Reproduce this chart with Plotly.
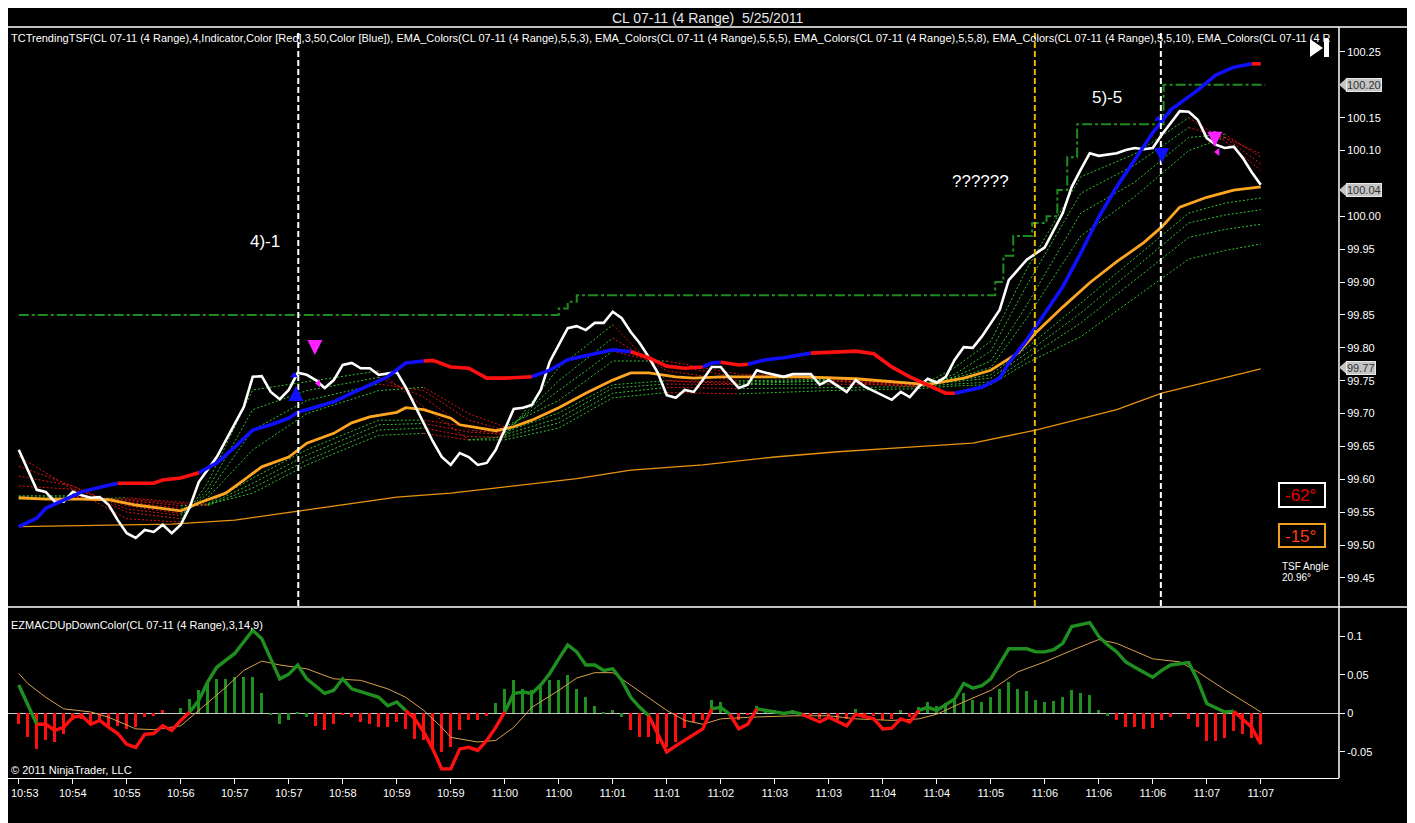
import plotly.graph_objects as go

# ---- values; x is the bar number (4-range bars, a time label every 6 bars) ----
tick_text = ["10:53", "10:54", "10:55", "10:56", "10:57", "10:57", "10:58", "10:59", "10:59",
             "11:00", "11:00", "11:01", "11:01", "11:02", "11:03", "11:03", "11:04", "11:04",
             "11:05", "11:06", "11:06", "11:06", "11:07", "11:07"]
tick_bars = list(range(0, 139, 6))

close_bar = [0, 2, 3, 4, 5, 6, 7, 8, 9, 10, 11, 12, 13, 14, 15, 16, 17, 18, 19, 20, 22, 23, 25, 26, 27,
             28, 29, 30, 31, 32, 33, 34, 35, 36, 37, 38, 39, 40, 42, 43, 44, 45, 46, 47, 48, 49, 50, 51,
             52, 53, 54, 55, 56, 57, 58, 59, 61, 62, 63, 64, 65, 66, 67, 68, 69, 70, 71, 72, 73, 74, 75,
             76, 77, 78, 79, 80, 81, 82, 83, 85, 86, 88, 89, 90, 92, 93, 94, 96, 97, 98, 99, 100, 101,
             102, 103, 104, 105, 106, 107, 109, 110, 112, 114, 116, 117, 118, 119, 120, 122, 123, 124,
             125, 126, 127, 128, 129, 130, 131, 132, 133, 134, 135, 136, 137, 138]
close_px = [99.645, 99.584, 99.581, 99.566, 99.566, 99.581, 99.576, 99.572, 99.573, 99.561, 99.538,
            99.518, 99.511, 99.523, 99.520, 99.531, 99.518, 99.531, 99.558, 99.596, 99.634, 99.660,
            99.710, 99.756, 99.757, 99.733, 99.722, 99.736, 99.762, 99.759, 99.751, 99.739, 99.751,
            99.774, 99.777, 99.769, 99.769, 99.759, 99.763, 99.740, 99.712, 99.685, 99.658, 99.634,
            99.622, 99.640, 99.634, 99.622, 99.625, 99.645, 99.675, 99.707, 99.709, 99.713, 99.736,
            99.779, 99.830, 99.833, 99.827, 99.838, 99.838, 99.855, 99.845, 99.824, 99.807, 99.786,
            99.762, 99.728, 99.724, 99.736, 99.733, 99.751, 99.771, 99.771, 99.754, 99.739, 99.744,
            99.766, 99.762, 99.756, 99.760, 99.760, 99.744, 99.751, 99.733, 99.751, 99.741, 99.728,
            99.721, 99.733, 99.725, 99.741, 99.753, 99.747, 99.756, 99.782, 99.801, 99.800, 99.817,
            99.858, 99.903, 99.934, 99.953, 100.005, 100.045, 100.071, 100.096, 100.092, 100.096,
            100.101, 100.104, 100.102, 100.104, 100.124, 100.142, 100.160, 100.159, 100.147, 100.119,
            100.109, 100.104, 100.106, 100.089, 100.067, 100.048]

tsf_bar = [0, 2, 3, 5, 7, 9, 11, 13, 15, 16, 18, 20, 22, 24, 26, 28, 30, 31, 33, 35, 37, 39, 41, 43,
           45, 46, 48, 50, 52, 54, 57, 59, 61, 64, 66, 68, 70, 72, 74, 76, 77, 78, 80, 81, 83, 85, 88,
           91, 93, 95, 97, 99, 101, 103, 104, 107, 109, 110, 112, 114, 116, 118, 120, 122, 124, 126,
           128, 131, 133, 135, 137, 138]
tsf_px = [99.528, 99.541, 99.556, 99.569, 99.581, 99.588, 99.594, 99.594, 99.594, 99.599, 99.602,
          99.610, 99.625, 99.649, 99.675, 99.683, 99.693, 99.702, 99.710, 99.718, 99.731, 99.744,
          99.756, 99.777, 99.780, 99.781, 99.771, 99.769, 99.754, 99.754, 99.756, 99.766, 99.782,
          99.791, 99.797, 99.794, 99.785, 99.772, 99.769, 99.771, 99.777, 99.778, 99.774, 99.775,
          99.782, 99.785, 99.792, 99.794, 99.795, 99.791, 99.771, 99.756, 99.744, 99.731, 99.731,
          99.740, 99.754, 99.777, 99.812, 99.853, 99.893, 99.944, 99.999, 100.045, 100.086, 100.127,
          100.162, 100.192, 100.215, 100.227, 100.232, 100.232]
tsf_blue_spans = [(0, 11), (20, 45), (57, 68), (76, 78), (81, 88), (104, 137)]

ema_bar = [0, 3, 7, 10, 13, 16, 18, 20, 23, 25, 27, 30, 32, 35, 37, 39, 42, 43, 45, 48, 49, 53, 55,
           57, 60, 63, 66, 68, 70, 73, 75, 78, 82, 87, 93, 97, 101, 105, 108, 111, 113, 116, 119,
           122, 125, 127, 129, 132, 135, 138]
ema_px = [99.572, 99.570, 99.570, 99.569, 99.561, 99.555, 99.552, 99.564, 99.579, 99.599, 99.619,
          99.634, 99.655, 99.670, 99.686, 99.695, 99.702, 99.709, 99.706, 99.693, 99.683, 99.674,
          99.680, 99.690, 99.709, 99.731, 99.751, 99.762, 99.762, 99.756, 99.754, 99.756, 99.756,
          99.756, 99.753, 99.748, 99.744, 99.754, 99.766, 99.792, 99.823, 99.862, 99.899, 99.931,
          99.960, 99.984, 100.014, 100.029, 100.040, 100.045]

slow_bar = [0, 17, 24, 31, 37, 42, 48, 62, 68, 76, 84, 91, 99, 106, 113, 122, 127, 133, 138]
slow_px = [99.528, 99.532, 99.538, 99.552, 99.563, 99.573, 99.579, 99.601, 99.614, 99.622, 99.634,
           99.642, 99.649, 99.655, 99.675, 99.706, 99.731, 99.751, 99.768]

stair_bar = [0, 60, 61, 62, 108.5, 109.4, 110.5, 112.6, 114.2, 115.4, 116.5, 117.6, 127.2, 138.5]
stair_px = [99.85, 99.86, 99.87, 99.88, 99.90, 99.94, 99.97, 99.99, 100.00, 100.04, 100.09, 100.14,
            100.20, 100.20]

# EMA ribbons (dotted), read at these bars
rib_bar = [0, 6, 12, 18, 21, 26, 32, 40, 45, 50, 54, 60, 66, 72, 80, 90, 100, 104, 108, 112, 118,
           124, 130, 134, 138]
rib_fast = [
    [99.635, 99.585, 99.540, 99.535, 99.595, 99.736, 99.748, 99.765, 99.710, 99.660, 99.665, 99.770,
     99.835, 99.750, 99.745, 99.750, 99.740, 99.770, 99.810, 99.920, 100.060, 100.095, 100.150,
     100.115, 100.070],
    [99.620, 99.590, 99.550, 99.540, 99.585, 99.706, 99.735, 99.755, 99.725, 99.675, 99.670, 99.750,
     99.815, 99.765, 99.750, 99.752, 99.742, 99.760, 99.795, 99.895, 100.035, 100.078, 100.135,
     100.120, 100.080],
    [99.605, 99.590, 99.555, 99.545, 99.578, 99.675, 99.720, 99.745, 99.735, 99.690, 99.675, 99.735,
     99.795, 99.775, 99.755, 99.754, 99.744, 99.756, 99.780, 99.865, 100.005, 100.052, 100.120,
     100.125, 100.090],
    [99.590, 99.585, 99.560, 99.548, 99.572, 99.645, 99.700, 99.735, 99.740, 99.700, 99.680, 99.720,
     99.780, 99.780, 99.760, 99.756, 99.745, 99.754, 99.770, 99.845, 99.970, 100.030, 100.100,
     100.120, 100.095],
]
rib_slow = [
    [99.575, 99.575, 99.565, 99.556, 99.563, 99.602, 99.645, 99.690, 99.690, 99.680, 99.672, 99.701,
     99.744, 99.750, 99.748, 99.750, 99.745, 99.750, 99.759, 99.800, 99.868, 99.937, 100.005,
     100.020, 100.028],
    [99.573, 99.573, 99.568, 99.560, 99.561, 99.594, 99.637, 99.683, 99.685, 99.672, 99.668, 99.693,
     99.739, 99.745, 99.744, 99.745, 99.743, 99.748, 99.754, 99.792, 99.853, 99.921, 99.990,
     100.002, 100.010],
    [99.571, 99.571, 99.570, 99.563, 99.560, 99.587, 99.629, 99.675, 99.678, 99.665, 99.664, 99.686,
     99.731, 99.740, 99.738, 99.740, 99.741, 99.745, 99.748, 99.784, 99.838, 99.903, 99.968,
     99.980, 99.988],
    [99.570, 99.570, 99.572, 99.566, 99.562, 99.579, 99.622, 99.667, 99.670, 99.660, 99.660, 99.678,
     99.724, 99.732, 99.730, 99.735, 99.738, 99.742, 99.744, 99.777, 99.817, 99.876, 99.935,
     99.948, 99.958],
]

# MACD panel
macd_bar = [0, 2, 3, 4, 5, 6, 7, 8, 9, 10, 11, 12, 13, 14, 15, 16, 17, 18, 19, 20, 21, 22, 24, 25,
            26, 27, 29, 30, 31, 32, 34, 35, 36, 37, 38, 40, 41, 42, 43, 44, 45, 46, 47, 48, 49, 50,
            51, 52, 53, 54, 55, 56, 57, 58, 59, 60, 61, 62, 63, 64, 65, 66, 67, 68, 69, 70, 71, 72,
            73, 74, 76, 77, 78, 79, 80, 81, 82, 83, 85, 86, 87, 89, 90, 91, 92, 93, 95, 96, 97, 98,
            99, 100, 101, 102, 104, 105, 106, 107, 108, 110, 111, 112, 113, 114, 115, 116, 117, 119,
            120, 121, 122, 123, 124, 126, 127, 128, 130, 131, 132, 134, 135, 136, 137, 138]
macd_val = [0.037, -0.014, -0.014, -0.022, -0.018, -0.005, -0.003, -0.014, -0.009, -0.018, -0.026,
            -0.040, -0.044, -0.027, -0.026, -0.016, -0.022, -0.009, 0.002, 0.017, 0.041, 0.060,
            0.078, 0.093, 0.108, 0.097, 0.045, 0.051, 0.063, 0.045, 0.026, 0.030, 0.045, 0.032,
            0.028, 0.021, 0.010, 0.015, 0.004, -0.007, -0.024, -0.046, -0.072, -0.072, -0.046,
            -0.044, -0.048, -0.035, -0.018, 0.002, 0.026, 0.028, 0.026, 0.037, 0.052, 0.071, 0.089,
            0.080, 0.063, 0.063, 0.056, 0.058, 0.043, 0.021, 0.008, -0.003, -0.027, -0.050, -0.042,
            -0.035, -0.020, 0.006, 0.008, -0.001, -0.020, -0.014, 0.006, 0.004, 0.000, 0.002,
            -0.001, -0.011, -0.005, -0.011, -0.016, -0.001, -0.007, -0.020, -0.019, -0.007, -0.011,
            0.004, 0.008, 0.004, 0.019, 0.039, 0.033, 0.036, 0.045, 0.084, 0.084, 0.084, 0.080,
            0.080, 0.083, 0.091, 0.113, 0.118, 0.100, 0.089, 0.080, 0.067, 0.060, 0.047, 0.056,
            0.063, 0.066, 0.043, 0.013, 0.002, 0.003, -0.007, -0.018, -0.040]

signal_bar = [0, 1, 3, 5, 8, 10, 13, 15, 18, 20, 23, 25, 27, 29, 32, 35, 38, 41, 43, 45, 47, 48, 51,
              53, 55, 57, 60, 62, 64, 66, 67, 69, 72, 74, 76, 78, 81, 86, 90, 93, 97, 100, 102, 105,
              108, 111, 114, 117, 120, 122, 126, 129, 131, 134, 138]
signal_val = [0.052, 0.039, 0.021, 0.006, 0.002, -0.005, -0.020, -0.021, -0.016, 0.004, 0.034,
              0.056, 0.068, 0.063, 0.058, 0.045, 0.043, 0.032, 0.021, 0.004, -0.018, -0.031,
              -0.037, -0.035, -0.018, 0.008, 0.030, 0.046, 0.053, 0.053, 0.045, 0.028, 0.004,
              -0.009, -0.014, -0.007, -0.005, -0.003, -0.003, -0.007, -0.009, -0.007, -0.001,
              0.015, 0.030, 0.054, 0.067, 0.082, 0.096, 0.091, 0.071, 0.067, 0.054, 0.031, 0.002]

hist_val = [-0.014, -0.031, -0.046, -0.035, -0.037, -0.027, -0.009, -0.007, -0.014, -0.009, -0.017,
            -0.016, -0.020, -0.018, -0.005, -0.003, 0.005, 0.000, 0.007, 0.019, 0.030, 0.041, 0.045,
            0.045, 0.047, 0.048, 0.048, 0.027, -0.001, -0.014, -0.009, 0.002, -0.005, -0.016,
            -0.022, -0.014, -0.001, -0.004, -0.011, -0.014, -0.017, -0.018, -0.011, -0.020, -0.033,
            -0.035, -0.046, -0.050, -0.044, -0.022, -0.009, -0.009, -0.003, 0.013, 0.032, 0.044,
            0.032, 0.030, 0.034, 0.044, 0.043, 0.050, 0.032, 0.021, 0.010, 0.002, 0.004, -0.005,
            -0.022, -0.031, -0.030, -0.040, -0.044, -0.037, -0.019, -0.011, -0.008, 0.017, 0.015,
            0.000, -0.009, -0.002, 0.010, 0.006, 0.004, -0.001, 0.004, 0.000, -0.002, -0.007,
            -0.005, -0.008, -0.007, 0.006, -0.002, -0.003, -0.008, -0.007, 0.004, -0.005, 0.008,
            0.015, 0.010, 0.013, 0.018, 0.027, 0.018, 0.015, 0.021, 0.032, 0.041, 0.032, 0.029,
            0.017, 0.015, 0.016, 0.022, 0.031, 0.027, 0.024, 0.004, -0.003, -0.009, -0.017, -0.017,
            -0.020, -0.019, -0.009, -0.005, 0.000, -0.007, -0.017, -0.036, -0.036, -0.032, -0.023,
            -0.027, -0.032, -0.040]
# g = green bar, r = red bar, as drawn
hist_col = ("r" * 18 + "g" * 15 + "r" * 20 + "g" * 15 + "r" * 9 + "g" * 3 + "r" * 2 + "g" * 6 +
            "r" * 5 + "g" + "r" * 4 + "g" + "r" + "g" * 22 + "r" * 17)

marker_lines = [(31.06, "white"), (112.9, "#e8b400"), (126.9, "white")]   # bar, colour

# ---- geometry: the page puts the figure 8px in from the window corner ----
OFF = 8
W, H = 1415 - OFF, 823 - OFF
L, R, T, B = 0, 76, 19, 45
PW, PH = W - L - R, H - T - B


def px_x(p):          # window pixel -> paper x
    return (p - OFF - L) / PW


def px_y(p):          # window pixel -> paper y
    return (H - B - (p - OFF)) / PH


def pieces(xs, ys, colour):
    """split a polyline into runs of one colour (colour(i) gives segment i)"""
    out, prev = {}, None
    for i in range(len(xs) - 1):
        c = colour(i)
        bx, by = out.setdefault(c, ([], []))
        if c != prev:
            if bx:
                bx.append(None)
                by.append(None)
            bx.append(xs[i])
            by.append(ys[i])
        bx.append(xs[i + 1])
        by.append(ys[i + 1])
        prev = c
    return out


fig = go.Figure()

# long slow average
fig.add_trace(go.Scatter(x=slow_bar, y=slow_px, mode="lines",
                         line=dict(color="#e8940e", width=1.3)))
# stepped dash-dot line
fig.add_trace(go.Scatter(x=stair_bar, y=stair_px, mode="lines", line_shape="hv",
                         line=dict(color="#1f8c1f", width=2, dash="10px,3px,3px,3px")))

# ribbons
rib_colours = {"up": "#33c033", "down": "#e01414"}
for series in rib_slow + rib_fast:
    parts = pieces(rib_bar, series, lambda i, s=series: "up" if s[i + 1] >= s[i] else "down")
    for c, (bx, by) in parts.items():
        fig.add_trace(go.Scatter(x=bx, y=by, mode="lines",
                                 line=dict(color=rib_colours[c], width=1, dash="2px,2px")))

fig.add_trace(go.Scatter(x=ema_bar, y=ema_px, mode="lines",
                         line=dict(color="#ffa620", width=2.8)))

fig.add_trace(go.Scatter(x=close_bar, y=close_px, mode="lines",
                         line=dict(color="white", width=2.6)))


def tsf_colour(i):
    b = tsf_bar[i]
    return "blue" if any(a <= b < e for a, e in tsf_blue_spans) else "red"


for c, (bx, by) in pieces(tsf_bar, tsf_px, tsf_colour).items():
    fig.add_trace(go.Scatter(x=bx, y=by, mode="lines",
                             line=dict(color="#1010ff" if c == "blue" else "#ff1010", width=3.6)))

# small signal triangles
fig.add_trace(go.Scatter(x=[30.6, 126.6], y=[99.758, 100.148], mode="markers",
                         marker=dict(symbol="triangle-up", size=7, color="#1010ff")))
fig.add_trace(go.Scatter(x=[33.3, 133.2], y=[99.746, 100.098], mode="markers",
                         marker=dict(symbol="triangle-left", size=7, color="#ff20ff")))

# ---- MACD panel ----
fig.add_trace(go.Bar(x=list(range(len(hist_val))), y=hist_val, width=0.36,
                     marker=dict(color=["#1f8f1f" if c == "g" else "#ff1010" for c in hist_col],
                                 line_width=0),
                     xaxis="x2", yaxis="y2"))
fig.add_trace(go.Scatter(x=signal_bar, y=signal_val, mode="lines", xaxis="x2", yaxis="y2",
                         line=dict(color="#d9a050", width=1)))
macd_parts = pieces(macd_bar, macd_val,
                    lambda i: "g" if macd_val[i] + macd_val[i + 1] >= 0 else "r")
for c, (bx, by) in macd_parts.items():
    fig.add_trace(go.Scatter(x=bx, y=by, mode="lines", xaxis="x2", yaxis="y2",
                             line=dict(color="#1f8f1f" if c == "g" else "#ff1010", width=3.4)))

x_range = [(OFF + L - 18.75) / 9.0, (OFF + L + PW - 18.75) / 9.0]
up_ticks = [99.45, 99.50, 99.55, 99.60, 99.65, 99.70, 99.75, 99.80, 99.85, 99.90, 99.95, 100.00,
            100.10, 100.15, 100.25]
axis_font = dict(family="Liberation Sans, Arial, sans-serif", size=11, color="white")

# the first time label sits against the left edge, so it is written as its own text below
x_labels = [""] + tick_text[1:]

fig.update_layout(
    width=W, height=H, showlegend=False, bargap=0,
    paper_bgcolor="black", plot_bgcolor="black",
    margin=dict(l=L, r=R, t=T, b=B, pad=0),
    font=dict(family="Liberation Sans, Arial, sans-serif", color="white", size=11),
    xaxis=dict(domain=[0, 1], range=x_range, anchor="y", showticklabels=False, ticks="",
               showgrid=False, zeroline=False, showline=False),
    yaxis=dict(domain=[px_y(606), 1], range=[99.4074, 100.288], side="right", anchor="x",
               tickvals=up_ticks, ticktext=["%.2f" % v for v in up_ticks],
               ticks="outside", ticklen=5, tickcolor="white", tickfont=axis_font,
               showgrid=False, zeroline=False, showline=False),
    xaxis2=dict(domain=[0, 1], range=x_range, anchor="y2", tickvals=tick_bars, ticktext=x_labels,
                ticks="outside", ticklen=5, tickcolor="white", tickfont=axis_font,
                showgrid=False, zeroline=False, showline=True, linecolor="white", linewidth=1),
    yaxis2=dict(domain=[0, px_y(608)], range=[-0.0838, 0.137], side="right", anchor="x2",
                tickvals=[-0.05, 0, 0.05, 0.1], ticktext=["-0.05", "0", "0.05", "0.1"],
                ticks="outside", ticklen=5, tickcolor="white", tickfont=axis_font,
                showgrid=False, zeroline=True, zerolinecolor="#c8c8c8", zerolinewidth=1,
                showline=False),
)

shapes = [
    dict(type="line", xref="paper", yref="paper", x0=0, x1=px_x(1415), y0=1, y1=1,
         line=dict(color="white", width=1.5)),
    dict(type="line", xref="paper", yref="paper", x0=0, x1=px_x(1415), y0=px_y(607), y1=px_y(607),
         line=dict(color="white", width=1.5)),
    dict(type="line", xref="paper", yref="paper", x0=1, x1=1, y0=0, y1=1,
         line=dict(color="white", width=1.5)),
]
for bar, col in marker_lines:
    shapes.append(dict(type="line", xref="x", yref="y domain", x0=bar, x1=bar, y0=0, y1=0.995,
                       line=dict(color=col, width=2, dash="6px,3px")))

# last-value flags on the price axis
flags = [(100.20, "100.20"), (100.04, "100.04"), (99.77, "99.77")]
annotations = []
half = 7 / 657.5
for v, txt in flags:
    shapes.append(dict(type="path", xref="paper", yref="y", fillcolor="#c4c4c4", line_width=0,
                       path="M 1 %f L %f %f L %f %f Z" % (v, px_x(1347), v + half, px_x(1347), v - half)))
    annotations.append(dict(xref="paper", yref="y", x=px_x(1346), y=v, text=txt, showarrow=False,
                            xanchor="left", yanchor="middle", bgcolor="#c4c4c4",
                            bordercolor="#e8e8e8", borderwidth=1, borderpad=0,
                            font=dict(family="Liberation Sans, Arial", size=11, color="#333333")))

# angle boxes
shapes.append(dict(type="rect", xref="paper", yref="paper", x0=px_x(1279), x1=px_x(1325),
                   y0=px_y(507), y1=px_y(483), line=dict(color="white", width=2)))
shapes.append(dict(type="rect", xref="paper", yref="paper", x0=px_x(1279), x1=px_x(1325),
                   y0=px_y(547), y1=px_y(524), line=dict(color="#f0a020", width=2)))
# play icon
shapes.append(dict(type="path", xref="paper", yref="paper", fillcolor="white", line_width=0,
                   path="M %f %f L %f %f L %f %f Z" % (px_x(1310), px_y(39), px_x(1323), px_y(48),
                                                       px_x(1310), px_y(57))))
shapes.append(dict(type="rect", xref="paper", yref="paper", fillcolor="white", line_width=0,
                   x0=px_x(1324), x1=px_x(1329), y0=px_y(57), y1=px_y(39)))


def text(x, y, s, size=11, color="white", anchor="left"):
    annotations.append(dict(xref="paper", yref="paper", x=px_x(x), y=px_y(y), text=s,
                            showarrow=False, xanchor=anchor, yanchor="middle",
                            font=dict(family="Liberation Sans, Arial, sans-serif", size=size,
                                      color=color)))


text(707, 18, "CL 07-11 (4 Range)  5/25/2011", size=14, color="#e6e6e6", anchor="center")
text(9, 38, "TCTrendingTSF(CL 07-11 (4 Range),4,Indicator,Color [Red],3,50,Color [Blue]), "
            "EMA_Colors(CL 07-11 (4 Range),5,5,3), EMA_Colors(CL 07-11 (4 Range),5,5,5), "
            "EMA_Colors(CL 07-11 (4 Range),5,5,8), EMA_Colors(CL 07-11 (4 Range),5,5,10), "
            "EMA_Colors(CL 07-11 (4 R", size=11)
text(9, 625, "EZMACDUpDownColor(CL 07-11 (4 Range),3,14,9)", size=11)
text(9, 770, "© 2011 NinjaTrader, LLC", size=11)
text(9, 793, tick_text[0], size=11)
text(265, 242, "4)-1", size=17, anchor="center")
text(980, 181, "??????", size=17, anchor="center")
text(1107, 97, "5)-5", size=17, anchor="center")
text(1283, 495, "-62°", size=17, color="#e00000")
text(1283, 536, "-15°", size=17, color="#ff3a10")
text(1280, 566, "TSF Angle", size=10)
text(1280, 577, "20.96°", size=10)

# entry / exit arrows
for bar, head, ay, col in [(32.9, 99.789, -16, "#ff20ff"), (30.8, 99.742, 16, "#1010ff"),
                           (132.9, 100.106, -17, "#ff20ff"), (127.0, 100.081, -13, "#1010ff")]:
    annotations.append(dict(xref="x", yref="y", x=bar, y=head, ax=0, ay=ay, text="",
                            showarrow=True, arrowhead=2, arrowsize=1, arrowwidth=3,
                            arrowcolor=col))

fig.update_layout(shapes=shapes, annotations=annotations)
fig.write_html("out.html")
